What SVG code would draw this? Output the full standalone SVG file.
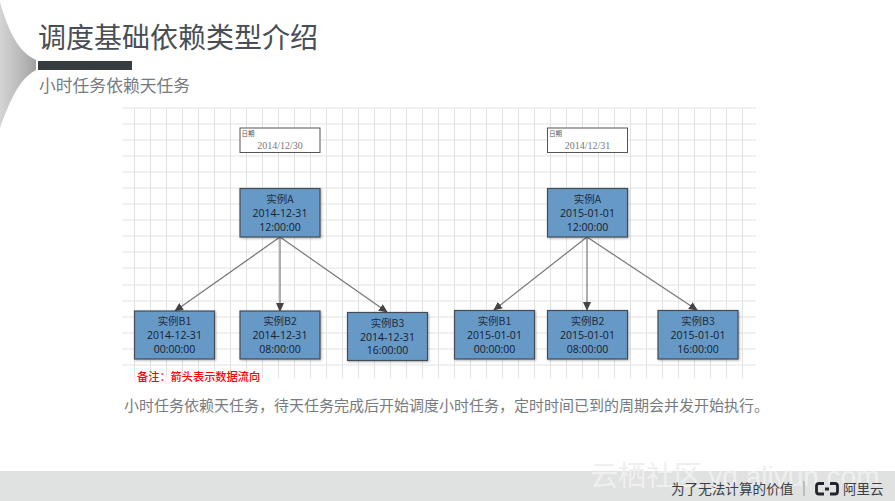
<svg xmlns="http://www.w3.org/2000/svg" width="895" height="501" viewBox="0 0 895 501">
<defs>
<linearGradient id="fan" x1="0" y1="0" x2="1" y2="0"><stop offset="0" stop-color="#d4d4d4"/><stop offset="0.7" stop-color="#b4b4b4"/><stop offset="1" stop-color="#a0a0a0"/></linearGradient>
<marker id="arr" markerWidth="9" markerHeight="8" refX="8" refY="4" orient="auto" markerUnits="userSpaceOnUse"><path d="M0,0 L9,4 L0,8 Z" fill="#444"/></marker>
<filter id="sh" x="-5%" y="-5%" width="112%" height="115%"><feDropShadow dx="1" dy="1" stdDeviation="0.8" flood-color="#000" flood-opacity="0.3"/></filter>
</defs>
<style>
text{font-family:"Noto Sans CJK SC","Liberation Sans",sans-serif}
.g{stroke:#e2e2e2;stroke-width:1;fill:none}
.n{fill:#6699c6;stroke:#444c55;stroke-width:1.2;filter:url(#sh)}
.t{font-size:10.500px;fill:#1f2d3d;text-anchor:middle;font-family:"Noto Sans CJK SC","Liberation Sans",sans-serif}
.l{font-size:10.500px;fill:#16202c;text-anchor:middle;font-family:"Open Sans","Noto Sans CJK SC",sans-serif}
.d{fill:#fff;stroke:#555;stroke-width:1}
.ds{font-size:6.500px;fill:#555}
.dt{font-size:10px;fill:#777;text-anchor:middle;font-family:"Liberation Serif",serif}
.c{stroke:#777;stroke-width:1.200;fill:none;marker-end:url(#arr)}
</style>
<rect width="895" height="501" fill="#fff"/>
<g id="background">
<path d="M0,2 C8,30 18,52 36,60 L36,70 C20,78 10,100 0,128 Z" fill="url(#fan)"/>
<rect x="38" y="61" width="94" height="9" fill="#373c41"/>
<rect y="471" width="895" height="30" fill="#e0e1e1"/>
<text x="590" y="486" font-size="28" fill="#efefef" style="font-family:'Noto Sans CJK SC','Liberation Sans',sans-serif">云栖社区 <tspan style="font-family:'Liberation Sans'" font-size="28">yq.aliyun.com</tspan></text>
</g>
<g id="title">
<text x="38" y="48" font-size="28" fill="#484e54">调度基础依赖类型介绍</text>
<text x="39" y="92" font-size="16.800" fill="#767b80">小时任务依赖天任务</text>
</g>
<g id="grid" class="g">
<path d="M122,108H756M122,124H756M122,140H756M122,156H756M122,172H756M122,188H756M122,204H756M122,220H756M122,236H756M122,252H756M122,268H756M122,285H756M122,301H756M122,317H756M122,333H756M122,349H756M122,365H756"/>
<path d="M134.500,108V378M150.500,108V378M166.500,108V378M182.500,108V378M198.500,108V378M214.500,108V378M230.500,108V378M246.500,108V378M262.500,108V378M278.500,108V378M294.500,108V378M310.500,108V378M326.500,108V378M342.500,108V378M358.500,108V378M374.500,108V378M390.500,108V378M406.500,108V378M422.500,108V378M438.500,108V378M454.500,108V378M470.500,108V378M486.500,108V378M502.500,108V378M518.500,108V378M534.500,108V378M550.500,108V378M566.500,108V378M582.500,108V378M598.500,108V378M614.500,108V378M630.500,108V378M646.500,108V378M662.500,108V378M678.500,108V378M694.500,108V378M710.500,108V378M726.500,108V378M742.500,108V378"/>
</g>
<g id="connectors">
<path class="c" d="M280,237L175,311"/>
<path class="c" d="M280,237V311"/>
<path class="c" d="M280,237L387,312"/>
<path class="c" d="M587,237L494,310"/>
<path class="c" d="M587,237V310"/>
<path class="c" d="M587,237L697,310"/>
</g>
<g id="date1"><rect class="d" x="240" y="128" width="80" height="24.500"/><text class="ds" x="241.500" y="135.500">日期</text><text class="dt" x="280" y="149">2014/12/30</text></g>
<g id="date2"><rect class="d" x="547.500" y="128" width="80" height="24.500"/><text class="ds" x="549" y="135.500">日期</text><text class="dt" x="587.500" y="149">2014/12/31</text></g>
<g id="a1"><rect class="n" x="240" y="188.500" width="80" height="48.500"/><text class="t" x="280" y="203">实例A</text><text class="l" x="280" y="217">2014-12-31</text><text class="l" x="280" y="230.500">12:00:00</text></g>
<g id="b11"><rect class="n" x="134.500" y="311" width="80" height="48"/><text class="t" x="174.500" y="325">实例B1</text><text class="l" x="174.500" y="339">2014-12-31</text><text class="l" x="174.500" y="352.500">00:00:00</text></g>
<g id="b12"><rect class="n" x="240" y="311" width="80" height="48"/><text class="t" x="280" y="325">实例B2</text><text class="l" x="280" y="339">2014-12-31</text><text class="l" x="280" y="352.500">08:00:00</text></g>
<g id="b13"><rect class="n" x="347.500" y="312.500" width="80" height="48"/><text class="t" x="387.500" y="326.500">实例B3</text><text class="l" x="387.500" y="340.500">2014-12-31</text><text class="l" x="387.500" y="354">16:00:00</text></g>
<g id="a2"><rect class="n" x="547.500" y="188.500" width="80" height="48.500"/><text class="t" x="587.500" y="203">实例A</text><text class="l" x="587.500" y="217">2015-01-01</text><text class="l" x="587.500" y="230.500">12:00:00</text></g>
<g id="b21"><rect class="n" x="454.500" y="310.500" width="80" height="48.500"/><text class="t" x="494.500" y="324.500">实例B1</text><text class="l" x="494.500" y="339">2015-01-01</text><text class="l" x="494.500" y="352.500">00:00:00</text></g>
<g id="b22"><rect class="n" x="547.500" y="310.500" width="80" height="48.500"/><text class="t" x="587.500" y="324.500">实例B2</text><text class="l" x="587.500" y="339">2015-01-01</text><text class="l" x="587.500" y="352.500">08:00:00</text></g>
<g id="b23"><rect class="n" x="658" y="310.500" width="80" height="48.500"/><text class="t" x="698" y="324.500">实例B3</text><text class="l" x="698" y="339">2015-01-01</text><text class="l" x="698" y="352.500">16:00:00</text></g>
<g id="note"><text x="137" y="381" font-size="11.200" fill="#ff0000" font-weight="500">备注：箭头表示数据流向</text></g>
<g id="caption"><text x="124" y="411" font-size="15" fill="#767b80">小时任务依赖天任务，待天任务完成后开始调度小时任务，定时时间已到的周期会并发开始执行。</text></g>
<g id="footer">
<text x="671" y="494" font-size="13.600" fill="#3a3f44">为了无法计算的价值</text>
<path d="M804,481V496" stroke="#999" stroke-width="1"/>
<path d="M824,483.500H819Q816.500,483.500 816.500,486V491.500Q816.500,494 819,494H824M830,483.500H835Q837.500,483.500 837.500,486V491.500Q837.500,494 835,494H830M825,489H829" fill="none" stroke="#22262a" stroke-width="2.800"/>
<text x="843" y="494" font-size="13.500" fill="#3a3f44">阿里云</text>
</g>
</svg>
